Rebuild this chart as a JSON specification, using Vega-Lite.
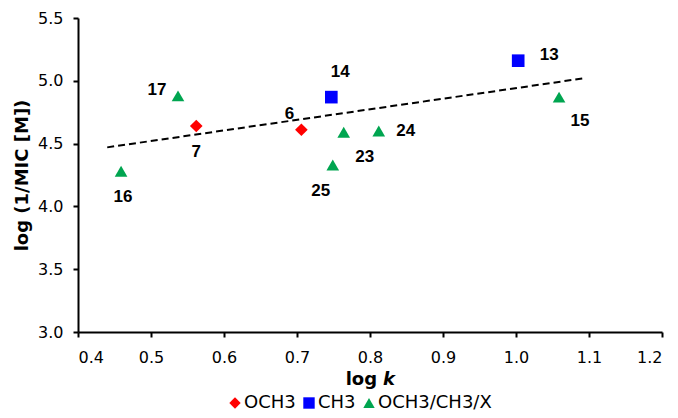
{
  "$schema": "https://vega.github.io/schema/vega-lite/v6.json",
  "autosize": {"type": "none"},
  "width": 584,
  "height": 314,
  "padding": {"left": 78, "top": 18, "right": 16, "bottom": 86},
  "background": "white",
  "config": {
    "view": {"stroke": null},
    "font": "DejaVu Sans",
    "axis": {
      "grid": false,
      "domainColor": "black",
      "domainWidth": 2,
      "tickColor": "black",
      "tickWidth": 2,
      "tickSize": 5,
      "labelFont": "DejaVu Sans",
      "labelFontSize": 16,
      "labelColor": "black",
      "titleFont": "DejaVu Sans",
      "titleFontSize": 18,
      "titleFontWeight": "bold",
      "titleColor": "black"
    },
    "legend": {"padding": 0}
  },
  "datasets": {
    "pts": [
      {"x": 0.459, "y": 4.28, "group": "OCH3/CH3/X", "label": "16"},
      {"x": 0.537, "y": 4.88, "group": "OCH3/CH3/X", "label": "17"},
      {"x": 0.562, "y": 4.64, "group": "OCH3", "label": "7"},
      {"x": 0.706, "y": 4.61, "group": "OCH3", "label": "6"},
      {"x": 0.747, "y": 4.87, "group": "CH3", "label": "14"},
      {"x": 0.749, "y": 4.33, "group": "OCH3/CH3/X", "label": "25"},
      {"x": 0.764, "y": 4.59, "group": "OCH3/CH3/X", "label": "23"},
      {"x": 0.812, "y": 4.60, "group": "OCH3/CH3/X", "label": "24"},
      {"x": 1.003, "y": 5.16, "group": "CH3", "label": "13"},
      {"x": 1.059, "y": 4.87, "group": "OCH3/CH3/X", "label": "15"}
    ],
    "trend": [
      {"x": 0.44, "y": 4.47},
      {"x": 1.093, "y": 5.02}
    ]
  },
  "layer": [
    {
      "data": {"name": "trend"},
      "mark": {"type": "line", "color": "black", "strokeWidth": 2, "strokeDash": [7, 4]},
      "encoding": {
        "x": {"field": "x", "type": "quantitative", "scale": {"domain": [0.4, 1.2], "nice": false, "zero": false},
              "axis": {"values": [0.4,0.5,0.6,0.7,0.8,0.9,1.0,1.1,1.2], "format": ".1f", "title": "log 𝙠", "labelPadding": 12, "titlePadding": 5}},
        "y": {"field": "y", "type": "quantitative", "scale": {"domain": [3.0, 5.5], "nice": false, "zero": false},
              "axis": {"values": [3.0,3.5,4.0,4.5,5.0,5.5], "format": ".1f", "title": "log (1/MIC [M])", "labelPadding": 10, "titlePadding": 6}}
      }
    },
    {
      "data": {"name": "pts"},
      "mark": {"type": "point", "filled": true, "opacity": 1, "size": 160},
      "encoding": {
        "x": {"field": "x", "type": "quantitative"},
        "y": {"field": "y", "type": "quantitative"},
        "color": {"field": "group", "type": "nominal",
                  "scale": {"domain": ["OCH3", "CH3", "OCH3/CH3/X"], "range": ["#ff0000", "#0000ff", "#00a550"]},
                  "legend": {"title": null, "orient": "none", "legendX": 148, "legendY": 376, "direction": "horizontal",
                             "labelFont": "DejaVu Sans", "labelFontSize": 18, "labelColor": "black",
                             "symbolSize": 130, "columnPadding": 4, "labelOffset": 0, "symbolOpacity": 1}},
        "shape": {"field": "group", "type": "nominal",
                  "scale": {"domain": ["OCH3", "CH3", "OCH3/CH3/X"], "range": ["diamond", "square", "triangle-up"]}}
      }
    },
    {"data": {"name": "pts"}, "transform": [{"filter": "datum.label == '16'"}],
     "mark": {"type": "text", "font": "Liberation Sans", "fontWeight": "bold", "fontSize": 17, "color": "black", "dx": 2, "dy": 26},
     "encoding": {"x": {"field": "x", "type": "quantitative"}, "y": {"field": "y", "type": "quantitative"}, "text": {"field": "label"}}},
    {"data": {"name": "pts"}, "transform": [{"filter": "datum.label == '17'"}],
     "mark": {"type": "text", "font": "Liberation Sans", "fontWeight": "bold", "fontSize": 17, "color": "black", "dx": -21, "dy": -6},
     "encoding": {"x": {"field": "x", "type": "quantitative"}, "y": {"field": "y", "type": "quantitative"}, "text": {"field": "label"}}},
    {"data": {"name": "pts"}, "transform": [{"filter": "datum.label == '7'"}],
     "mark": {"type": "text", "font": "Liberation Sans", "fontWeight": "bold", "fontSize": 17, "color": "black", "dx": 0, "dy": 26},
     "encoding": {"x": {"field": "x", "type": "quantitative"}, "y": {"field": "y", "type": "quantitative"}, "text": {"field": "label"}}},
    {"data": {"name": "pts"}, "transform": [{"filter": "datum.label == '6'"}],
     "mark": {"type": "text", "font": "Liberation Sans", "fontWeight": "bold", "fontSize": 17, "color": "black", "dx": -12, "dy": -16},
     "encoding": {"x": {"field": "x", "type": "quantitative"}, "y": {"field": "y", "type": "quantitative"}, "text": {"field": "label"}}},
    {"data": {"name": "pts"}, "transform": [{"filter": "datum.label == '14'"}],
     "mark": {"type": "text", "font": "Liberation Sans", "fontWeight": "bold", "fontSize": 17, "color": "black", "dx": 9, "dy": -25},
     "encoding": {"x": {"field": "x", "type": "quantitative"}, "y": {"field": "y", "type": "quantitative"}, "text": {"field": "label"}}},
    {"data": {"name": "pts"}, "transform": [{"filter": "datum.label == '25'"}],
     "mark": {"type": "text", "font": "Liberation Sans", "fontWeight": "bold", "fontSize": 17, "color": "black", "dx": -12, "dy": 26},
     "encoding": {"x": {"field": "x", "type": "quantitative"}, "y": {"field": "y", "type": "quantitative"}, "text": {"field": "label"}}},
    {"data": {"name": "pts"}, "transform": [{"filter": "datum.label == '23'"}],
     "mark": {"type": "text", "font": "Liberation Sans", "fontWeight": "bold", "fontSize": 17, "color": "black", "dx": 21, "dy": 25},
     "encoding": {"x": {"field": "x", "type": "quantitative"}, "y": {"field": "y", "type": "quantitative"}, "text": {"field": "label"}}},
    {"data": {"name": "pts"}, "transform": [{"filter": "datum.label == '24'"}],
     "mark": {"type": "text", "font": "Liberation Sans", "fontWeight": "bold", "fontSize": 17, "color": "black", "dx": 27, "dy": 0},
     "encoding": {"x": {"field": "x", "type": "quantitative"}, "y": {"field": "y", "type": "quantitative"}, "text": {"field": "label"}}},
    {"data": {"name": "pts"}, "transform": [{"filter": "datum.label == '13'"}],
     "mark": {"type": "text", "font": "Liberation Sans", "fontWeight": "bold", "fontSize": 17, "color": "black", "dx": 31, "dy": -6},
     "encoding": {"x": {"field": "x", "type": "quantitative"}, "y": {"field": "y", "type": "quantitative"}, "text": {"field": "label"}}},
    {"data": {"name": "pts"}, "transform": [{"filter": "datum.label == '15'"}],
     "mark": {"type": "text", "font": "Liberation Sans", "fontWeight": "bold", "fontSize": 17, "color": "black", "dx": 21, "dy": 24},
     "encoding": {"x": {"field": "x", "type": "quantitative"}, "y": {"field": "y", "type": "quantitative"}, "text": {"field": "label"}}}
  ]
}
